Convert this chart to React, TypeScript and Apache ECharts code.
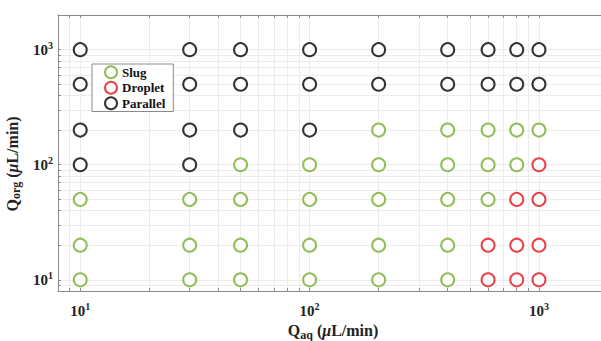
import React, { useEffect, useRef } from "react";
import * as echarts from "echarts";

// Aqueous and organic flow rates tested (μL/min)
const qAq = [10, 30, 50, 100, 200, 400, 600, 800, 1000];
const qOrg = [10, 20, 50, 100, 200, 500, 1000];

// Observed regime for each aqueous flow rate, listed by ascending organic flow rate
// S = slug, D = droplet, P = parallel
const regimeByAq = [
  "SSSPPPP", // 10
  "SSSPPPP", // 30
  "SSSSPPP", // 50
  "SSSSPPP", // 100
  "SSSSSPP", // 200
  "SSSSSPP", // 400
  "DDSSSPP", // 600
  "DDDSSPP", // 800
  "DDDDSPP", // 1000
];

const regimes = [
  { code: "S", name: "Slug", color: "#77ac30" },
  { code: "D", name: "Droplet", color: "#e3141b" },
  { code: "P", name: "Parallel", color: "#000000" },
];

// Axis ticks (log decades plus intermediate marks)
const majorTicks = [10, 100, 1000];
const allTicks = [
  8, 9, 10, 20, 30, 40, 50, 60, 70, 80, 90, 100, 200, 300, 400, 500, 600, 700,
  800, 900, 1000, 2000,
];

const FONT = "'Liberation Serif', 'Times New Roman', serif";

function pointsFor(code: string): number[][] {
  const out: number[][] = [];
  qAq.forEach((x, i) => {
    qOrg.forEach((y, j) => {
      if (regimeByAq[i][j] === code) out.push([x, y]);
    });
  });
  return out;
}

const powerLabel = (v: number) => `{b|10}{s|${Math.round(Math.log10(v))}}`;

const labelRich = {
  b: { fontFamily: FONT, fontWeight: "bold", fontSize: 15, color: "#222" },
  s: {
    fontFamily: FONT,
    fontWeight: "bold",
    fontSize: 10,
    color: "#222",
    padding: [0, 0, 9, 0],
  },
};

const nameRich = {
  q: { fontFamily: FONT, fontWeight: "bold", fontSize: 16, color: "#222" },
  sub: {
    fontFamily: FONT,
    fontWeight: "bold",
    fontSize: 12,
    color: "#222",
    padding: [8, 0, 0, 0],
  },
  t: { fontFamily: FONT, fontWeight: "bold", fontSize: 16, color: "#222" },
  mu: {
    fontFamily: FONT,
    fontWeight: "bold",
    fontStyle: "italic",
    fontSize: 16,
    color: "#222",
  },
};

const axisLineColor = "#8a8a8a";

function logAxisBase(extra: any) {
  return {
    type: "log",
    logBase: 10,
    min: 8,
    max: 2000,
    axisLine: { show: true, lineStyle: { color: axisLineColor, width: 1 } },
    axisTick: {
      show: true,
      inside: true,
      length: 3,
      customValues: allTicks,
      lineStyle: { color: axisLineColor },
    },
    splitLine: { show: false },
    ...extra,
  };
}

export default function App() {
  const ref = useRef<HTMLDivElement>(null);

  useEffect(() => {
    if (!ref.current) return;
    const chart = echarts.init(ref.current, undefined, { renderer: "svg" });

    const gridLines = {
      show: true,
      lineStyle: { color: "#ececec", width: 1 },
    };

    chart.setOption({
      animation: false,
      backgroundColor: "#ffffff",
      grid: {
        left: 58,
        top: 15,
        right: 2,
        bottom: 50,
        containLabel: false,
        outerBoundsMode: "none",
      },
      legend: {
        orient: "vertical",
        left: 92,
        top: 64,
        padding: [1, 8, 1, 12],
        itemGap: 1,
        itemWidth: 12,
        itemHeight: 12,
        backgroundColor: "#ffffff",
        borderColor: "#8a8a8a",
        borderWidth: 1,
        borderRadius: 0,
        textStyle: {
          fontFamily: FONT,
          fontWeight: "bold",
          fontSize: 13,
          lineHeight: 14.5,
          color: "#111",
        },
        data: regimes.map((r) => r.name),
      },
      xAxis: [
        logAxisBase({
          position: "bottom",
          splitLine: gridLines,
          axisLabel: {
            customValues: majorTicks,
            margin: 10,
            formatter: powerLabel,
            rich: labelRich,
          },
          name: "{q|Q}{sub|aq}{t| (}{mu|μ}{t|L/min)}",
          nameLocation: "middle",
          nameGap: 27,
          nameTextStyle: { rich: nameRich },
        }),
        logAxisBase({
          position: "top",
          axisLabel: { show: false },
        }),
      ],
      yAxis: [
        logAxisBase({
          position: "left",
          splitLine: gridLines,
          axisLabel: {
            customValues: majorTicks,
            margin: 5,
            formatter: powerLabel,
            rich: labelRich,
          },
          name: "{q|Q}{sub|org}{t| (}{mu|μ}{t|L/min)}",
          nameLocation: "middle",
          nameRotate: 90,
          nameGap: 36,
          nameTextStyle: { rich: nameRich, padding: [0, 22, 0, 0] },
        }),
      ],
      series: regimes.map((r) => ({
        name: r.name,
        type: "scatter",
        xAxisIndex: 0,
        yAxisIndex: 0,
        symbol: "emptyCircle",
        symbolSize: 13,
        itemStyle: { color: r.color, borderColor: r.color, borderWidth: 2 },
        data: pointsFor(r.code),
      })),
    });

    return () => chart.dispose();
  }, []);

  return (
    <div
      style={{
        position: "fixed",
        left: 0,
        top: 0,
        width: 601,
        height: 341,
        overflow: "hidden",
        background: "#fff",
      }}
    >
      <div ref={ref} style={{ width: 610, height: 341 }} />
    </div>
  );
}
